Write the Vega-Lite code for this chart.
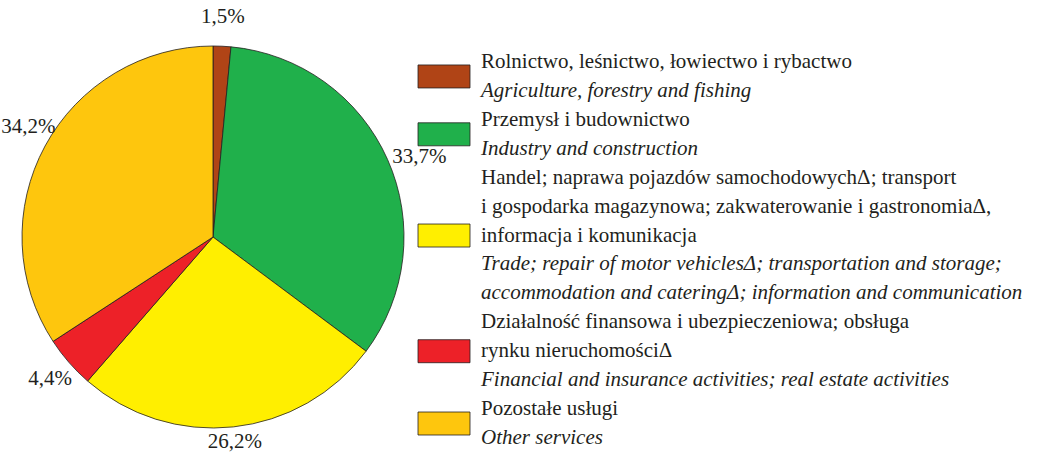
{
  "$schema": "https://vega.github.io/schema/vega-lite/v6.json",
  "autosize": "none",
  "bounds": "flush",
  "padding": {"left": 8, "top": 22, "right": 1038, "bottom": 430},
  "spacing": 0,
  "background": "white",
  "config": {
    "view": {"stroke": null},
    "font": "Liberation Serif",
    "text": {"font": "Liberation Serif"},
    "locale": {"number": {"decimal": ",", "thousands": "\u00a0", "grouping": [3], "currency": ["", " zł"]}}
  },
  "datasets": {
    "sectors": [
      {"sector": "Rolnictwo, leśnictwo, łowiectwo i rybactwo", "share": 0.015, "rank": 1},
      {"sector": "Przemysł i budownictwo", "share": 0.337, "rank": 2},
      {"sector": "Handel; naprawa pojazdów samochodowych; transport i gospodarka magazynowa; zakwaterowanie i gastronomia, informacja i komunikacja", "share": 0.262, "rank": 3},
      {"sector": "Działalność finansowa i ubezpieczeniowa; obsługa rynku nieruchomości", "share": 0.044, "rank": 4},
      {"sector": "Pozostałe usługi", "share": 0.342, "rank": 5}
    ],
    "legendLines": [
      {"sector": "Rolnictwo, leśnictwo, łowiectwo i rybactwo", "line": 1, "lang": "pl", "text": "Rolnictwo, leśnictwo, łowiectwo i rybactwo"},
      {"sector": "Rolnictwo, leśnictwo, łowiectwo i rybactwo", "line": 2, "lang": "en", "text": "Agriculture, forestry and fishing"},
      {"sector": "Przemysł i budownictwo", "line": 3, "lang": "pl", "text": "Przemysł i budownictwo"},
      {"sector": "Przemysł i budownictwo", "line": 4, "lang": "en", "text": "Industry and construction"},
      {"sector": "Handel; naprawa pojazdów samochodowych; transport i gospodarka magazynowa; zakwaterowanie i gastronomia, informacja i komunikacja", "line": 5, "lang": "pl", "text": "Handel; naprawa pojazdów samochodowychΔ; transport"},
      {"sector": "Handel; naprawa pojazdów samochodowych; transport i gospodarka magazynowa; zakwaterowanie i gastronomia, informacja i komunikacja", "line": 6, "lang": "pl", "text": "i gospodarka magazynowa; zakwaterowanie i gastronomiaΔ,"},
      {"sector": "Handel; naprawa pojazdów samochodowych; transport i gospodarka magazynowa; zakwaterowanie i gastronomia, informacja i komunikacja", "line": 7, "lang": "pl", "text": "informacja i komunikacja"},
      {"sector": "Handel; naprawa pojazdów samochodowych; transport i gospodarka magazynowa; zakwaterowanie i gastronomia, informacja i komunikacja", "line": 8, "lang": "en", "text": "Trade; repair of motor vehiclesΔ; transportation and storage;"},
      {"sector": "Handel; naprawa pojazdów samochodowych; transport i gospodarka magazynowa; zakwaterowanie i gastronomia, informacja i komunikacja", "line": 9, "lang": "en", "text": "accommodation and cateringΔ; information and communication"},
      {"sector": "Działalność finansowa i ubezpieczeniowa; obsługa rynku nieruchomości", "line": 10, "lang": "pl", "text": "Działalność finansowa i ubezpieczeniowa; obsługa"},
      {"sector": "Działalność finansowa i ubezpieczeniowa; obsługa rynku nieruchomości", "line": 11, "lang": "pl", "text": "rynku nieruchomościΔ"},
      {"sector": "Działalność finansowa i ubezpieczeniowa; obsługa rynku nieruchomości", "line": 12, "lang": "en", "text": "Financial and insurance activities; real estate activities"},
      {"sector": "Pozostałe usługi", "line": 13, "lang": "pl", "text": "Pozostałe usługi"},
      {"sector": "Pozostałe usługi", "line": 14, "lang": "en", "text": "Other services"}
    ]
  },
  "hconcat": [
    {
      "width": 410,
      "height": 430,
      "data": {"name": "sectors"},
      "encoding": {
        "theta": {"field": "share", "type": "quantitative", "stack": true},
        "order": {"field": "rank", "type": "quantitative"}
      },
      "layer": [
        {
          "mark": {"type": "arc", "outerRadius": 191, "stroke": "#231f20", "strokeWidth": 0.8},
          "encoding": {
            "color": {
              "field": "sector", "type": "nominal", "legend": null,
              "scale": {
                "domain": [
                  "Rolnictwo, leśnictwo, łowiectwo i rybactwo",
                  "Przemysł i budownictwo",
                  "Handel; naprawa pojazdów samochodowych; transport i gospodarka magazynowa; zakwaterowanie i gastronomia, informacja i komunikacja",
                  "Działalność finansowa i ubezpieczeniowa; obsługa rynku nieruchomości",
                  "Pozostałe usługi"
                ],
                "range": ["#b04416", "#20b04b", "#ffef00", "#ed2128", "#fec60d"]
              }
            }
          }
        },
        {
          "mark": {
            "type": "text",
            "font": "Liberation Serif",
            "fontSize": 21,
            "fill": "#231f20",
            "radius": {"expr": "sin(PI*(datum.share_start+datum.share_end)) > 0.5 ? 196 : (cos(PI*(datum.share_start+datum.share_end)) < -0.9 ? 206 : (cos(PI*(datum.share_start+datum.share_end)) > 0.3 ? 210 : 216))"},
            "align": {"expr": "sin(PI*(datum.share_start+datum.share_end)) > 0.5 ? 'left' : 'center'"},
            "baseline": {"expr": "cos(PI*(datum.share_start+datum.share_end)) > 0.3 && sin(PI*(datum.share_start+datum.share_end)) <= 0.5 ? 'bottom' : 'middle'"}
          },
          "encoding": {
            "detail": {"field": "sector", "type": "nominal"},
            "text": {"field": "share", "type": "quantitative", "format": ".1%"}
          }
        }
      ]
    },
    {
      "width": 52,
      "height": 430,
      "data": {"name": "legendLines"},
      "layer": [
        {
          "transform": [{"aggregate": [{"op": "mean", "field": "line", "as": "mid"}], "groupby": ["sector"]}],
          "mark": {"type": "tick", "orient": "horizontal", "size": 52, "thickness": 23, "stroke": "#231f20", "strokeWidth": 0.8, "opacity": 1},
          "encoding": {
            "y": {"field": "mid", "type": "quantitative", "axis": null, "scale": {"domain": [-0.383, 14.485], "reverse": true, "nice": false, "zero": false}},
            "color": {"field": "sector", "type": "nominal", "legend": null}
          }
        },
        {
          "transform": [{"filter": "datum.lang === 'pl'"}],
          "mark": {"type": "text", "font": "Liberation Serif", "align": "left", "baseline": "middle", "dx": 37, "fontSize": 21, "fill": "#231f20"},
          "encoding": {
            "y": {"field": "line", "type": "quantitative", "axis": null, "scale": {"domain": [-0.383, 14.485], "reverse": true, "nice": false, "zero": false}},
            "text": {"field": "text", "type": "nominal"}
          }
        },
        {
          "transform": [{"filter": "datum.lang === 'en'"}],
          "mark": {"type": "text", "font": "Liberation Serif", "align": "left", "baseline": "middle", "dx": 37, "fontSize": 21, "fontStyle": "italic", "fill": "#231f20"},
          "encoding": {
            "y": {"field": "line", "type": "quantitative", "axis": null, "scale": {"domain": [-0.383, 14.485], "reverse": true, "nice": false, "zero": false}},
            "text": {"field": "text", "type": "nominal"}
          }
        }
      ]
    }
  ]
}
